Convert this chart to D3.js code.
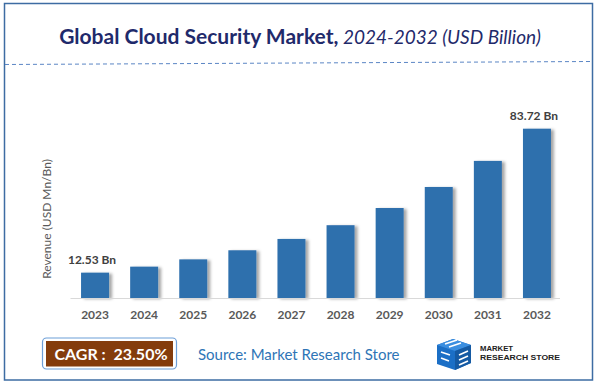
<!DOCTYPE html>
<html>
<head>
<meta charset="utf-8">
<script src="https://cdn.jsdelivr.net/npm/d3@7"></script>
<style>
    body { margin: 0; background: #fff; }
    svg { display: block; }
</style>
</head>
<body>
<div id="chart"></div>
<script>
// chart data
var years = ["2023", "2024", "2025", "2026", "2027", "2028", "2029", "2030", "2031", "2032"];
var revenue = [12.53, 15.5, 19.1, 23.6, 29.2, 36.0, 44.5, 54.9, 67.8, 83.72];
var barLabels = ["12.53 Bn", "", "", "", "", "", "", "", "", "83.72 Bn"];

var titleBold = "Global Cloud Security Market,";
var titleItalic = " 2024-2032 (USD Billion)";
var yTitle = "Revenue (USD Mn/Bn)";
var cagrText = "CAGR :  23.50%";
var sourceText = "Source: Market Research Store";
var logoLines = ["MARKET", "RESEARCH STORE"];

var width = 600;
var height = 387;
var font = "Lato, 'Open Sans', sans-serif";

var svg = d3.select("#chart")
    .append("svg")
    .attr("width", width)
    .attr("height", height);

// drop shadow for bars
var defs = svg.append("defs");
var shadow = defs.append("filter")
    .attr("id", "barShadow")
    .attr("x", "-20%").attr("y", "-10%")
    .attr("width", "160%").attr("height", "130%");
shadow.append("feDropShadow")
    .attr("dx", 3)
    .attr("dy", 1)
    .attr("stdDeviation", 1.6)
    .attr("flood-color", "#000")
    .attr("flood-opacity", 0.35);

// outer frame
svg.append("rect")
    .attr("x", 4.5)
    .attr("y", 3.5)
    .attr("width", 588)
    .attr("height", 376.5)
    .attr("fill", "#fff")
    .attr("stroke", "#3d6ca3")
    .attr("stroke-width", 1.5);

// title
var title = svg.append("text")
    .attr("x", 300)
    .attr("y", 44)
    .attr("text-anchor", "middle")
    .style("font-family", font)
    .style("font-size", "21px")
    .attr("fill", "#1f2a6b");
title.append("tspan")
    .style("font-weight", "bold")
    .text(titleBold);
title.append("tspan")
    .style("font-style", "italic")
    .style("font-size", "19px")
    .text(titleItalic);

// dashed separator
svg.append("line")
    .attr("x1", 5)
    .attr("y1", 64.5)
    .attr("x2", 592)
    .attr("y2", 61.5)
    .attr("stroke", "#5b86c5")
    .attr("stroke-width", 1)
    .attr("stroke-dasharray", "4,3");

// scales
var x = d3.scaleBand()
    .domain(years)
    .range([70.5, 561.5])
    .paddingInner(0.43)
    .paddingOuter(0.215);

var y = d3.scaleLinear()
    .domain([0, 90])
    .range([298, 116]);

// bars
svg.selectAll(".bar")
    .data(revenue)
    .enter().append("rect")
    .attr("class", "bar")
    .attr("x", function (d, i) { return x(years[i]); })
    .attr("y", function (d) { return y(d); })
    .attr("width", x.bandwidth())
    .attr("height", function (d) { return y(0) - y(d); })
    .attr("fill", "#2e6fad")
    .attr("filter", "url(#barShadow)");

// baseline
svg.append("line")
    .attr("x1", 70.5)
    .attr("x2", 560)
    .attr("y1", y(0) + 0.5)
    .attr("y2", y(0) + 0.5)
    .attr("stroke", "#d9d9d9")
    .attr("stroke-width", 1);

// x axis labels
var xAxis = d3.axisBottom(x).tickSize(0).tickPadding(12);
var xg = svg.append("g")
    .attr("transform", "translate(0," + y(0) + ")")
    .call(xAxis);
xg.select(".domain").remove();
xg.selectAll("text")
    .style("font-family", font)
    .style("font-size", "12px")
    .style("font-weight", "bold")
    .attr("fill", "#595959");

// value labels
svg.selectAll(".barLabel")
    .data(revenue)
    .enter().append("text")
    .attr("class", "barLabel")
    .attr("x", function (d, i) { return x(years[i]) + x.bandwidth() / 2 - 3; })
    .attr("y", function (d) { return y(d) - 9; })
    .attr("text-anchor", "middle")
    .style("font-family", font)
    .style("font-size", "12px")
    .style("font-weight", "bold")
    .attr("fill", "#404040")
    .text(function (d, i) { return barLabels[i]; });

// y axis title
svg.append("text")
    .attr("transform", "translate(51,219) rotate(-90)")
    .attr("text-anchor", "middle")
    .style("font-family", font)
    .style("font-size", "12px")
    .attr("fill", "#595959")
    .text(yTitle);

// CAGR box
svg.append("rect")
    .attr("x", 42.5)
    .attr("y", 338)
    .attr("width", 134)
    .attr("height", 31)
    .attr("rx", 4)
    .attr("fill", "#fff")
    .attr("stroke", "#6d9fd8")
    .attr("stroke-width", 1.2);
svg.append("rect")
    .attr("x", 46)
    .attr("y", 341)
    .attr("width", 127)
    .attr("height", 25.5)
    .attr("fill", "#843c0c");
svg.append("text")
    .attr("x", 111)
    .attr("y", 359.5)
    .attr("text-anchor", "middle")
    .style("font-family", font)
    .style("font-size", "16px")
    .style("font-weight", "bold")
    .style("white-space", "pre")
    .attr("fill", "#fff")
    .text(cagrText);

// source
svg.append("text")
    .attr("x", 198)
    .attr("y", 360)
    .style("font-family", font)
    .style("font-size", "15px")
    .attr("fill", "#2e75b6")
    .text(sourceText);

// logo icon (rough cube with RS stripes)
var logo = svg.append("g").attr("transform", "translate(437,337)");
logo.append("path")
    .attr("d", "M0,8 L16,2 L34,8 L34,26 L18,33 L0,27 Z")
    .attr("fill", "#1b6fc6");
logo.append("path")
    .attr("d", "M0,8 L16,2 L34,8 L18,14 Z")
    .attr("fill", "#3a8ee0");
logo.append("path")
    .attr("d", "M18,14 L34,8 L34,26 L18,33 Z")
    .attr("fill", "#155aa3");
logo.append("path")
    .attr("d", "M8,7 L20,3 M12,10 L24,6 M4,15 L13,18 M4,21 L12,24 M22,18 L31,14 M22,23 L31,19 M22,28 L31,24")
    .attr("stroke", "#fff")
    .attr("stroke-width", 1.6);

svg.selectAll(".logoText")
    .data(logoLines)
    .enter().append("text")
    .attr("class", "logoText")
    .attr("x", 480)
    .attr("y", function (d, i) { return 351 + i * 8.5; })
    .attr("textLength", function (d, i) { return i === 0 ? 33 : 80; })
    .attr("lengthAdjust", "spacingAndGlyphs")
    .style("font-family", "'Liberation Sans Narrow', 'Liberation Sans', sans-serif")
    .style("font-size", "8px")
    .style("font-weight", "bold")
    .attr("fill", "#222")
    .text(function (d) { return d; });
</script>
</body>
</html>
